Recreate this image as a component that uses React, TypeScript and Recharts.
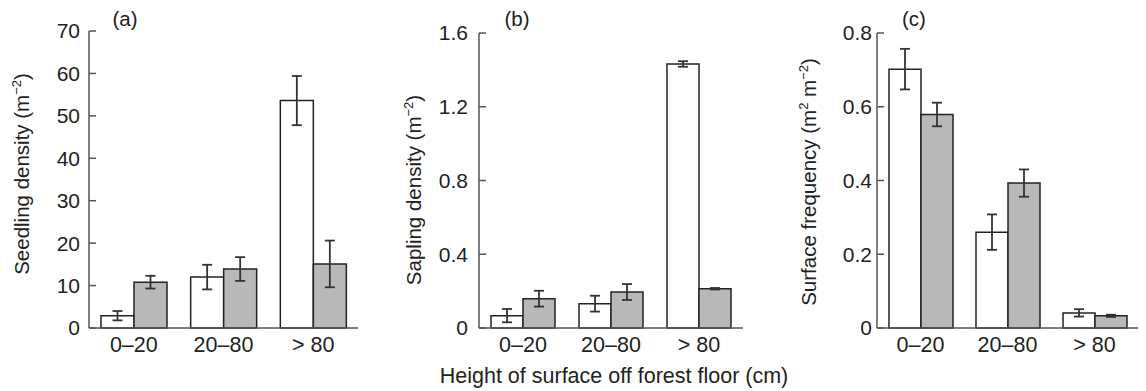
import { BarChart, Bar, ErrorBar, XAxis, YAxis } from "recharts";

const categories = ["0–20", "20–80", "> 80"];

// (a) seedlings
const seedlingOpen = [2.9, 12.0, 53.6];
const seedlingOpenErr = [1.1, 2.9, 5.8];
const seedlingShaded = [10.8, 13.9, 15.1];
const seedlingShadedErr = [1.5, 2.8, 5.5];
const seedlingTicks = [0, 10, 20, 30, 40, 50, 60, 70];

// (b) saplings
const saplingOpen = [0.067, 0.132, 1.432];
const saplingOpenErr = [0.036, 0.043, 0.015];
const saplingShaded = [0.159, 0.195, 0.213];
const saplingShadedErr = [0.043, 0.043, 0.004];
const saplingTicks = [0, 0.4, 0.8, 1.2, 1.6];

// (c) surface frequency
const surfaceOpen = [0.702, 0.26, 0.041];
const surfaceOpenErr = [0.055, 0.048, 0.01];
const surfaceShaded = [0.579, 0.393, 0.033];
const surfaceShadedErr = [0.032, 0.037, 0.003];
const surfaceTicks = [0, 0.2, 0.4, 0.6, 0.8];

const FONT = '"Liberation Sans", Arial, Helvetica, sans-serif';
const INK = "#222";
const AXIS = "#555";
const GREY = "#b8b8b8";

function rows(open: number[], openErr: number[], shaded: number[], shadedErr: number[]) {
  return categories.map((cat, i) => ({
    cat,
    open: open[i],
    openErr: openErr[i],
    shaded: shaded[i],
    shadedErr: shadedErr[i],
  }));
}

const makeTick = (gap: number) => (props: any) => {
  const { x, y, payload } = props;
  return (
    <g>
      <line x1={x + gap} x2={x + gap + 7} y1={y} y2={y} stroke={AXIS} strokeWidth={1.5} />
      <text x={x} y={y} dy="0.355em" textAnchor="end" fontSize={21} fill={INK}>
        {payload.value}
      </text>
    </g>
  );
};

interface PanelProps {
  left: number;
  width: number;
  axisWidth: number;
  right: number;
  top: number;
  data: any[];
  ticks: number[];
  gap: number;
  letter: string;
  letterX: number;
  titleX: number;
  titleY: number;
  title: React.ReactNode;
  footer?: React.ReactNode;
}

function Panel(p: PanelProps) {
  const max = p.ticks[p.ticks.length - 1];
  return (
    <div style={{ position: "absolute", left: p.left, top: 0 }}>
      <BarChart
        width={p.width}
        height={391}
        data={p.data}
        margin={{ top: p.top, right: p.right, bottom: 33, left: 0 }}
        barGap={0}
        barCategoryGap={12}
      >
        <XAxis
          dataKey="cat"
          height={30}
          tickSize={0}
          tickMargin={8.5}
          tickLine={false}
          axisLine={{ stroke: AXIS, strokeWidth: 1.5 }}
          tick={{ fill: INK, fontSize: 21.5 }}
          interval={0}
          label={() => p.footer ?? null}
        />
        <YAxis
          width={p.axisWidth}
          domain={[0, max]}
          ticks={p.ticks}
          interval={0}
          tickSize={0}
          tickMargin={p.gap}
          tickLine={false}
          axisLine={{ stroke: AXIS, strokeWidth: 1.5 }}
          tick={makeTick(p.gap)}
          label={() => (
            <g>
              <text
                x={p.titleX}
                y={p.titleY}
                transform={`rotate(-90, ${p.titleX}, ${p.titleY})`}
                textAnchor="middle"
                fontSize={20.5}
                fill={INK}
              >
                {p.title}
              </text>
              <text x={p.letterX} y={25.5} textAnchor="middle" fontSize={20.5} fill={INK}>
                {p.letter}
              </text>
            </g>
          )}
        />
        <Bar dataKey="open" fill="#fff" stroke={INK} strokeWidth={1.5} isAnimationActive={false}>
          <ErrorBar dataKey="openErr" width={5} stroke="#333" strokeWidth={1.8} isAnimationActive={false} />
        </Bar>
        <Bar dataKey="shaded" fill={GREY} stroke={INK} strokeWidth={1.5} isAnimationActive={false}>
          <ErrorBar dataKey="shadedErr" width={5} stroke="#333" strokeWidth={1.8} isAnimationActive={false} />
        </Bar>
      </BarChart>
    </div>
  );
}

export default function App() {
  return (
    <div
      style={{
        position: "absolute",
        left: 0,
        top: 0,
        width: 1146,
        height: 391,
        background: "#fff",
        fontFamily: FONT,
      }}
    >
      <style>{`.recharts-surface { overflow: visible; } .recharts-wrapper { overflow: visible; }`}</style>
      <Panel
        left={0}
        width={380}
        axisWidth={89}
        right={22}
        top={31}
        data={rows(seedlingOpen, seedlingOpenErr, seedlingShaded, seedlingShadedErr)}
        ticks={seedlingTicks}
        gap={9}
        letter="(a)"
        letterX={125}
        titleX={29}
        titleY={174}
        title={
          <>
            Seedling density (m
            <tspan dy={-8} fontSize={13}>−2</tspan>
            <tspan dy={8}>)</tspan>
          </>
        }
      />
      <Panel
        left={380}
        width={380}
        axisWidth={99}
        right={17}
        top={33}
        data={rows(saplingOpen, saplingOpenErr, saplingShaded, saplingShadedErr)}
        ticks={saplingTicks}
        gap={11}
        letter="(b)"
        letterX={137}
        titleX={41}
        titleY={190}
        title={
          <>
            Sapling density (m
            <tspan dy={-8} fontSize={13}>−2</tspan>
            <tspan dy={8}>)</tspan>
          </>
        }
        footer={
          <text x={234} y={383} textAnchor="middle" fontSize={21.5} fill={INK}>
            Height of surface off forest floor (cm)
          </text>
        }
      />
      <Panel
        left={760}
        width={386}
        axisWidth={117}
        right={8}
        top={33}
        data={rows(surfaceOpen, surfaceOpenErr, surfaceShaded, surfaceShadedErr)}
        ticks={surfaceTicks}
        gap={5}
        letter="(c)"
        letterX={154}
        titleX={56}
        titleY={182}
        title={
          <>
            Surface frequency (m
            <tspan dy={-8} fontSize={13}>2</tspan>
            <tspan dy={8}> m</tspan>
            <tspan dy={-8} fontSize={13}>−2</tspan>
            <tspan dy={8}>)</tspan>
          </>
        }
      />
    </div>
  );
}
